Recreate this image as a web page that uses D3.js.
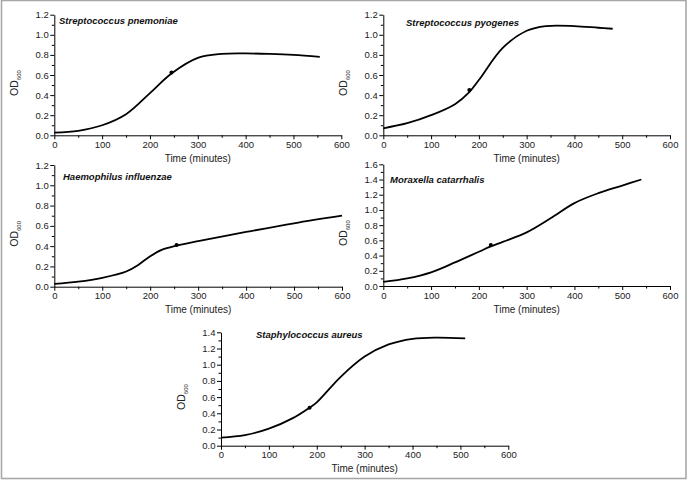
<!DOCTYPE html>
<html><head><meta charset="utf-8">
<script src="https://cdn.jsdelivr.net/npm/d3@7"></script>
<style>
body{margin:0;background:#fff;}
svg{display:block;font-family:"Liberation Sans",Arial,sans-serif;}
</style></head>
<body><svg id="c" width="688" height="481"></svg>
<script>
// ---- data ----
const names = ["Streptococcus pnemoniae","Streptococcus pyogenes","Haemophilus influenzae","Moraxella catarrhalis","Staphylococcus aureus"];
const xTicks = [0,100,200,300,400,500,600];

const tPne = [0,50,100,150,200,245,300,350,400,450,500,555];
const odPne = [0.026,0.045,0.10,0.21,0.42,0.615,0.77,0.81,0.815,0.81,0.80,0.78];
const markPne = [245,0.625];

const tPyo = [0,50,100,150,180,200,250,300,340,400,450,480];
const odPyo = [0.07,0.12,0.20,0.31,0.43,0.55,0.87,1.04,1.087,1.087,1.07,1.06];
const markPyo = [180,0.45];

const tHae = [0,50,100,150,175,200,225,255,300,400,500,600];
const odHae = [0.027,0.05,0.088,0.15,0.215,0.30,0.365,0.405,0.45,0.54,0.625,0.70];
const markHae = [255,0.41];

const tMor = [0,50,100,150,200,225,250,300,350,400,450,500,540];
const odMor = [0.055,0.10,0.18,0.31,0.45,0.52,0.58,0.705,0.89,1.09,1.22,1.32,1.40];
const markMor = [225,0.54];

const tSau = [0,50,100,150,185,200,250,300,350,400,450,510];
const odSau = [0.10,0.13,0.21,0.34,0.47,0.535,0.85,1.10,1.25,1.32,1.335,1.325];
const markSau = [185,0.47];

const yMax = [1.2,1.2,1.2,1.6,1.4];

// ---- layout ----
const layout = [
  {x0:54.3, x1:341.3, y0:135.3, y1:14.7, lx:59, ly:24},
  {x0:383.3,x1:670,   y0:135.3, y1:14.7, lx:406, ly:26},
  {x0:54.3, x1:342,   y0:286.7, y1:165,  lx:63, ly:179.5},
  {x0:383.3,x1:670,   y0:286,   y1:164.3,lx:390, ly:182.5},
  {x0:221,  x1:508.3, y0:445.7, y1:332.3,lx:256, ly:338}
];
const series = [[tPne,odPne,markPne],[tPyo,odPyo,markPyo],[tHae,odHae,markHae],[tMor,odMor,markMor],[tSau,odSau,markSau]];

const svg = d3.select("#c");
svg.append("rect").attr("x",1.5).attr("y",0.5).attr("width",684.5).attr("height",478)
  .attr("fill","none").attr("stroke","#a8a8a8").attr("stroke-width",1.6);

layout.forEach((L,i)=>{
  const x = d3.scaleLinear().domain([0,600]).range([L.x0,L.x1]);
  const y = d3.scaleLinear().domain([0,yMax[i]]).range([L.y0,L.y1]);
  const g = svg.append("g");
  const xMinor = d3.range(50,600,100);
  const yMinor = d3.range(0.1,yMax[i],0.2);
  g.append("g").attr("transform",`translate(0,${L.y0})`)
    .call(d3.axisBottom(x).tickValues(xMinor).tickSize(2.5).tickFormat(""))
    .call(a=>a.select(".domain").remove());
  g.append("g").attr("transform",`translate(${L.x0},0)`)
    .call(d3.axisLeft(y).tickValues(yMinor).tickSize(2.5).tickFormat(""))
    .call(a=>a.select(".domain").remove());
  const xa = g.append("g").attr("transform",`translate(0,${L.y0})`)
    .call(d3.axisBottom(x).tickValues(xTicks).tickSize(4).tickSizeOuter(0).tickPadding(2).tickFormat(d3.format("d")));
  const ya = g.append("g").attr("transform",`translate(${L.x0},0)`)
    .call(d3.axisLeft(y).tickValues(d3.range(0,yMax[i]+0.001,0.2)).tickSize(4).tickSizeOuter(0).tickPadding(1.5).tickFormat(d3.format(".1f")));
  [xa,ya].forEach(a=>{
    a.selectAll("text").attr("font-size","9.5px").attr("fill","#222").attr("font-family","Liberation Sans, Arial, sans-serif");
    a.selectAll("line,path").attr("stroke","#000");
  });
  svg.selectAll("g g line").attr("stroke","#000");
  g.append("text").attr("x",(L.x0+L.x1)/2).attr("y",L.y0+26.5).attr("text-anchor","middle")
    .attr("font-size","10px").attr("fill","#222").text("Time (minutes)");
  const yl = g.append("text").attr("transform",`translate(${L.x0-36},${(L.y0+L.y1)/2+8}) rotate(-90)`)
    .attr("text-anchor","middle").attr("font-size","10.5px").attr("fill","#222");
  yl.append("tspan").text("OD");
  yl.append("tspan").attr("font-size","6px").attr("dy",2.5).text("600");
  g.append("text").attr("x",L.lx).attr("y",L.ly).attr("font-size","9.5px").attr("font-weight","bold")
    .attr("font-style","italic").attr("fill","#111").text(names[i]);
  const [ts,vs,mk] = series[i];
  const pts = ts.map((t,k)=>[t,vs[k]]);
  g.append("path").datum(pts).attr("fill","none").attr("stroke","#000").attr("stroke-width",1.8)
    .attr("d",d3.line().x(d=>x(d[0])).y(d=>y(d[1])).curve(d3.curveCatmullRom.alpha(0.5)));
  g.append("circle").attr("cx",x(mk[0])).attr("cy",y(mk[1])).attr("r",2).attr("fill","#000");
});
</script></body></html>
